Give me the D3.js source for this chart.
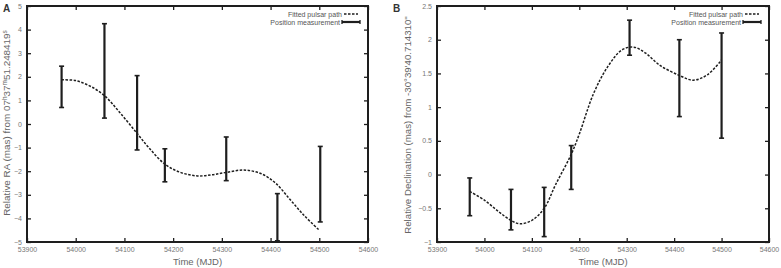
<!DOCTYPE html>
<html>
<head>
<meta charset="utf-8">
<script src="https://cdn.jsdelivr.net/npm/d3@7"></script>
<style>
  body { margin: 0; background: #fff; }
  svg { display: block; font-family: "Liberation Sans", Arial, sans-serif; }
</style>
</head>
<body>
<svg id="chart" width="781" height="268"></svg>
<script>
// measurements (MJD, error bar low, error bar high)
const raObsMjd  = [53971, 54059, 54126, 54183, 54309, 54414, 54502];
const raObsLow  = [0.7, 0.25, -1.1, -2.45, -2.4, -4.95, -4.15];
const raObsHigh = [2.45, 4.25, 2.05, -1.05, -0.55, -2.95, -0.95];

const raFitMjd = [53971, 54000, 54030, 54059, 54090, 54126, 54150, 54183, 54215, 54250, 54280, 54309, 54345, 54380, 54410, 54440, 54470, 54500];
const raFitVal = [1.87, 1.84, 1.6, 1.2, 0.5, -0.4, -1.0, -1.7, -2.05, -2.2, -2.15, -2.05, -1.95, -2.1, -2.5, -3.2, -3.9, -4.5];

const decObsMjd  = [53969, 54056, 54126, 54183, 54306, 54411, 54500];
const decObsLow  = [-0.61, -0.82, -0.92, -0.22, 1.77, 0.86, 0.54];
const decObsHigh = [-0.05, -0.22, -0.19, 0.43, 2.29, 2.0, 2.1];

const decFitMjd = [53969, 54000, 54030, 54056, 54075, 54100, 54126, 54150, 54183, 54200, 54230, 54260, 54290, 54315, 54340, 54370, 54411, 54440, 54470, 54500];
const decFitVal = [-0.25, -0.38, -0.55, -0.68, -0.73, -0.68, -0.5, -0.15, 0.3, 0.6, 1.2, 1.6, 1.85, 1.89, 1.8, 1.62, 1.47, 1.4, 1.48, 1.7];

const xTicks = [53900, 54000, 54100, 54200, 54300, 54400, 54500, 54600];
const raTicks = [-5, -4, -3, -2, -1, 0, 1, 2, 3, 4, 5];
const decTicks = [-1, -0.5, 0, 0.5, 1, 1.5, 2, 2.5];

const svg = d3.select("#chart");
const ink = "#1e1e1e";

function panel(opt) {
  const x = d3.scaleLinear().domain([53900, 54600]).range([opt.left, opt.right]);
  const y = d3.scaleLinear().domain(opt.yDomain).range([opt.bottom, opt.top]);
  const g = svg.append("g");

  // fitted path
  const fit = opt.fitMjd.map((m, i) => [m, opt.fitVal[i]]);
  g.append("path")
    .datum(fit)
    .attr("fill", "none")
    .attr("stroke", ink)
    .attr("stroke-width", 1.5)
    .attr("stroke-dasharray", "2.5,1.5")
    .attr("d", d3.line().x(d => x(d[0])).y(d => y(d[1])).curve(d3.curveCatmullRom));

  // error bars
  const bars = g.selectAll(".bar")
    .data(opt.obsMjd.map((m, i) => ({ m, lo: opt.obsLow[i], hi: opt.obsHigh[i] })))
    .enter().append("g");
  bars.append("line")
    .attr("x1", d => x(d.m)).attr("x2", d => x(d.m))
    .attr("y1", d => y(d.lo)).attr("y2", d => y(d.hi))
    .attr("stroke", ink).attr("stroke-width", 2.2);
  ["lo", "hi"].forEach(k => {
    bars.append("line")
      .attr("x1", d => x(d.m) - 2.5).attr("x2", d => x(d.m) + 2.5)
      .attr("y1", d => y(d[k])).attr("y2", d => y(d[k]))
      .attr("stroke", ink).attr("stroke-width", 1.6);
  });

  // axes: ticks inward on all four sides
  const tick = 4;
  const xb = d3.axisBottom(x).tickValues(xTicks).tickSize(-tick).tickFormat(d3.format("d"));
  const xt = d3.axisTop(x).tickValues(xTicks).tickSize(-tick).tickFormat("");
  const yl = d3.axisLeft(y).tickValues(opt.yTicks).tickSize(-tick).tickFormat(d3.format("~g"));
  const yr = d3.axisRight(y).tickValues(opt.yTicks).tickSize(-tick).tickFormat("");

  const axes = [
    g.append("g").attr("transform", `translate(0,${opt.bottom})`).call(xb),
    g.append("g").attr("transform", `translate(0,${opt.top})`).call(xt),
    g.append("g").attr("transform", `translate(${opt.left},0)`).call(yl),
    g.append("g").attr("transform", `translate(${opt.right},0)`).call(yr)
  ];
  axes.forEach(a => {
    a.select(".domain").remove();
    a.selectAll(".tick line").attr("stroke", ink).attr("stroke-width", 1.3);
    a.selectAll("text").attr("fill", "#777").attr("font-size", 7);
  });
  axes[0].selectAll("text").attr("y", 5).attr("dy", "0.71em");
  axes[2].selectAll("text").attr("x", -5).attr("dy", "0.3em");

  // frame
  g.append("rect")
    .attr("x", opt.left).attr("y", opt.top)
    .attr("width", opt.right - opt.left).attr("height", opt.bottom - opt.top)
    .attr("fill", "none").attr("stroke", ink).attr("stroke-width", 2);

  // axis titles
  g.append("text")
    .attr("x", (opt.left + opt.right) / 2).attr("y", 265)
    .attr("text-anchor", "middle").attr("font-size", 9.5).attr("fill", "#666")
    .text("Time (MJD)");

  const yt = g.append("text")
    .attr("transform", `translate(${opt.ylabelX},${opt.ylabelY}) rotate(-90)`)
    .attr("text-anchor", "middle").attr("font-size", 10).attr("fill", "#666");
  opt.ylabel.forEach(p => {
    const t = yt.append("tspan").text(p[0]);
    if (p[1]) t.attr("baseline-shift", "super").attr("font-size", 6.5);
  });
  // size the title to the length it has in the reference
  const len = yt.node().getComputedTextLength();
  const k = opt.ylabelLen / len;
  yt.attr("font-size", 10 * k);
  yt.selectAll("tspan").filter(function () { return this.getAttribute("font-size"); })
    .attr("font-size", 6.5 * k);

  // panel letter
  g.append("text")
    .attr("x", opt.letterX).attr("y", 12)
    .attr("font-size", 10).attr("font-weight", "bold").attr("fill", "#333")
    .text(opt.letter);

  // legend
  const lx = opt.right - 10;
  const leg = g.append("g");
  leg.append("text").attr("x", lx - 16).attr("y", 16.5).attr("text-anchor", "end")
    .attr("font-size", 7).attr("fill", "#555").text("Fitted pulsar path");
  leg.append("text").attr("x", lx - 18).attr("y", 24.5).attr("text-anchor", "end")
    .attr("font-size", 7).attr("fill", "#555").text("Position measurement");
  leg.append("line").attr("x1", lx - 14).attr("x2", lx).attr("y1", 14).attr("y2", 14)
    .attr("stroke", ink).attr("stroke-width", 1.5).attr("stroke-dasharray", "2.5,1.5");
  leg.append("line").attr("x1", lx - 16).attr("x2", lx + 2).attr("y1", 22).attr("y2", 22)
    .attr("stroke", ink).attr("stroke-width", 2.2);
  [lx - 16, lx + 2].forEach(cx => {
    leg.append("line").attr("x1", cx).attr("x2", cx).attr("y1", 20).attr("y2", 24)
      .attr("stroke", ink).attr("stroke-width", 1.3);
  });
}

panel({
  left: 27, right: 368, top: 6, bottom: 242,
  yDomain: [-5, 5], yTicks: raTicks,
  obsMjd: raObsMjd, obsLow: raObsLow, obsHigh: raObsHigh,
  fitMjd: raFitMjd, fitVal: raFitVal,
  ylabel: [["Relative RA (mas) from 07"], ["h", true], ["37"], ["m", true], ["51.248419"], ["s", true]],
  ylabelX: 9.5, ylabelY: 123, ylabelLen: 186, letter: "A", letterX: 3
});

panel({
  left: 437, right: 769, top: 6, bottom: 242,
  yDomain: [-1, 2.5], yTicks: decTicks,
  obsMjd: decObsMjd, obsLow: decObsLow, obsHigh: decObsHigh,
  fitMjd: decFitMjd, fitVal: decFitVal,
  ylabel: [["Relative Declination (mas) from -30°39'40.714310\""]],
  ylabelX: 411, ylabelY: 125, ylabelLen: 218, letter: "B", letterX: 393
});
</script>
</body>
</html>
